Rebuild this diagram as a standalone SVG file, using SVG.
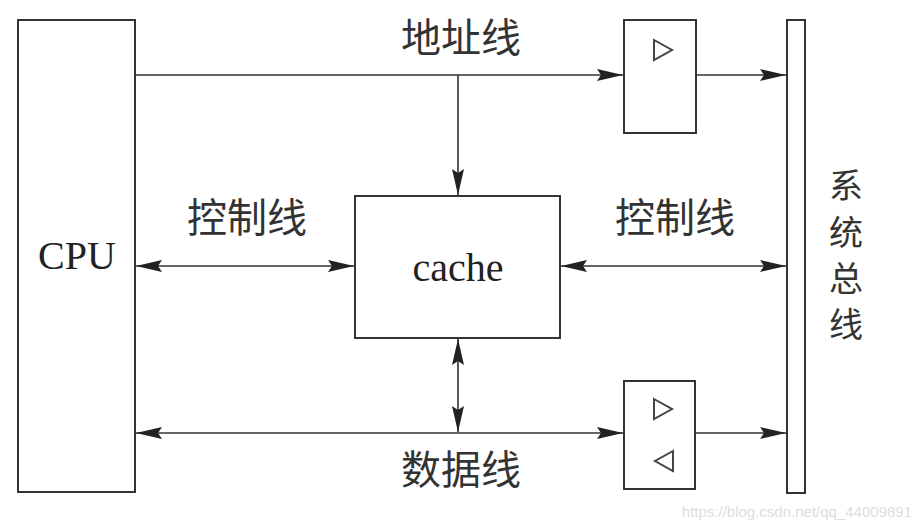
<svg xmlns="http://www.w3.org/2000/svg" width="922" height="528" viewBox="0 0 922 528">
<defs>
<marker id="ah" viewBox="0 0 26 12" refX="26" refY="6" markerWidth="26" markerHeight="12" markerUnits="userSpaceOnUse" orient="auto-start-reverse">
<path d="M0,0 L26,6 L0,12 L4,6 Z" fill="#222"/>
</marker>
<style>
.box{fill:#fff;stroke:#333;stroke-width:2}
.ln{stroke:#333;stroke-width:1.6;fill:none}
.cn{font-family:"Noto Sans CJK SC",sans-serif;font-size:40px;fill:#333;text-anchor:middle}
.vt{font-family:"Noto Sans CJK SC",sans-serif;font-size:34px;fill:#333;text-anchor:middle}
.lat{font-family:"Liberation Serif",serif;fill:#222;text-anchor:middle}
.tri{fill:none;stroke:#444;stroke-width:2}
</style>
</defs>
<rect width="922" height="528" fill="#fff"/>
<g id="cpu"><rect class="box" x="18" y="20" width="117" height="472"/><text class="lat" x="77" y="269" font-size="40">CPU</text></g>
<g id="cache"><rect class="box" x="355" y="196" width="205" height="142"/><text class="lat" x="458" y="281" font-size="40">cache</text></g>
<g id="buf1"><rect class="box" x="624" y="20" width="72" height="113"/><path class="tri" d="M654,40 L672,50 L654,60 Z"/></g>
<g id="buf2"><rect class="box" x="624" y="381" width="71" height="108"/><path class="tri" d="M654,399 L672,409 L654,419 Z"/><path class="tri" d="M673,451 L655,461 L673,471 Z"/></g>
<g id="bus"><rect class="box" x="787" y="20" width="18" height="473"/>
<text class="vt" x="846" y="198">系</text>
<text class="vt" x="846" y="245">统</text>
<text class="vt" x="846" y="291">总</text>
<text class="vt" x="846" y="337">线</text></g>
<g id="connectors">
<line class="ln" x1="135" y1="75" x2="623" y2="75" marker-end="url(#ah)"/>
<line class="ln" x1="696" y1="75" x2="786" y2="75" marker-end="url(#ah)"/>
<line class="ln" x1="458" y1="75" x2="458" y2="195" marker-end="url(#ah)"/>
<line class="ln" x1="136" y1="266" x2="354" y2="266" marker-start="url(#ah)" marker-end="url(#ah)"/>
<line class="ln" x1="561" y1="266" x2="786" y2="266" marker-start="url(#ah)" marker-end="url(#ah)"/>
<line class="ln" x1="458" y1="339" x2="458" y2="432" marker-start="url(#ah)" marker-end="url(#ah)"/>
<line class="ln" x1="136" y1="433" x2="623" y2="433" marker-start="url(#ah)" marker-end="url(#ah)"/>
<line class="ln" x1="695" y1="433" x2="786" y2="433" marker-end="url(#ah)"/>
</g>
<g id="labels">
<text class="cn" x="461" y="52">地址线</text>
<text class="cn" x="247" y="232">控制线</text>
<text class="cn" x="675" y="232">控制线</text>
<text class="cn" x="461" y="484">数据线</text>
</g>
<text x="912" y="517" font-family="Liberation Sans,sans-serif" font-size="15" fill="#ddd" text-anchor="end">https://blog.csdn.net/qq_44009891</text>
</svg>
